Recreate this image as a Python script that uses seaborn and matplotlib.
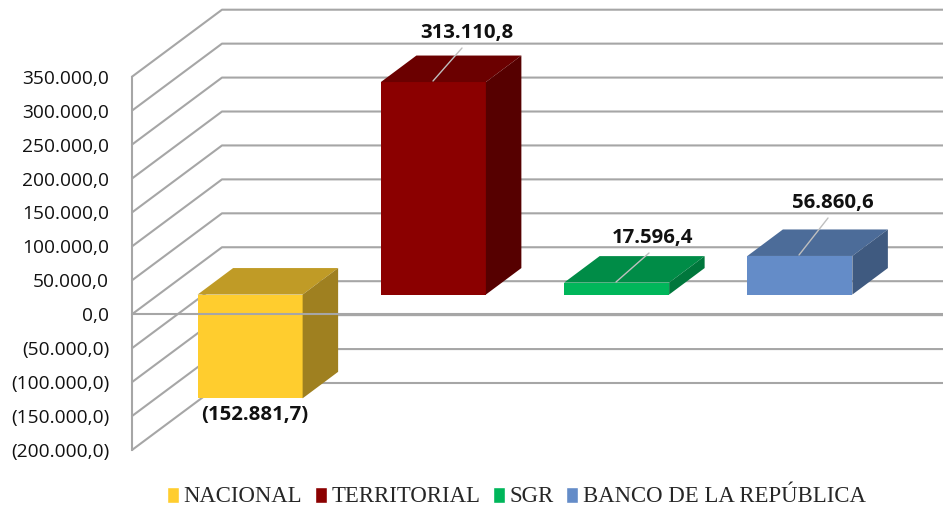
import numpy as np
import matplotlib
matplotlib.use("Agg")
import matplotlib.pyplot as plt
from matplotlib.patches import Polygon
from matplotlib.lines import Line2D
from matplotlib.transforms import Affine2D, IdentityTransform
import pandas as pd
import seaborn as sns

categorias = ["NACIONAL", "TERRITORIAL", "SGR", "BANCO DE LA REPÚBLICA"]
valores = [-152881.7, 313110.8, 17596.4, 56860.6]
etiquetas = ["(152.881,7)", "313.110,8", "17.596,4", "56.860,6"]
ticks = [350000, 300000, 250000, 200000, 150000, 100000, 50000, 0,
         -50000, -100000, -150000, -200000]
tick_labels = ["350.000,0", "300.000,0", "250.000,0", "200.000,0", "150.000,0",
               "100.000,0", "50.000,0", "0,0", "(50.000,0)", "(100.000,0)",
               "(150.000,0)", "(200.000,0)"]
colores = ["#FFCD2E", "#8B0000", "#00B65A", "#648CC8"]
colores_top = ["#C09B26", "#6B0000", "#008C47", "#4C6C99"]
colores_lado = ["#9F8020", "#560000", "#00773C", "#3F5A80"]

W, H = 943, 508
GRIS = "#A6A6A6"
FUENTE = "Open Sans"

sns.set_style("white")
fig = plt.figure(figsize=(W / 100, H / 100), dpi=100)
ax = fig.add_axes([132 / W, (H - 450) / H, 733 / W, 373.3 / H])

df = pd.DataFrame({"cat": categorias, "valor": valores})
sns.barplot(data=df, x="cat", y="valor", hue="cat", palette=colores, hue_order=categorias,
            order=categorias, dodge=False, width=0.573, legend=False, ax=ax, saturation=1, zorder=3)
ax.set_xlim(-0.5, 3.5)
ax.set_ylim(-200000, 350000)
ax.set_xlabel("")
ax.set_ylabel("")
ax.set_xticks([])
ax.set_yticks(ticks)
ax.set_yticklabels(tick_labels, fontsize=13.8, family=FUENTE, weight=500, color="#111111")
ax.tick_params(axis="y", length=0, pad=16.5)
for s in ["top", "right", "bottom"]:
    ax.spines[s].set_visible(False)
ax.spines["left"].set_color(GRIS)
ax.spines["left"].set_linewidth(1.5)
ax.patch.set_alpha(0)


def px(x, y):
    # data -> pixeles de la figura
    return ax.transData.transform((x, y))


def linea(xs, ys, lw=1.5, color=GRIS, z=1):
    fig.add_artist(Line2D(xs, ys, transform=IdentityTransform(), color=color, lw=lw, zorder=z))


# paredes: diagonal + linea horizontal del fondo
for t in ticks:
    x0, y0 = px(-0.5, t)
    linea([x0, x0 + 90, W], [y0, y0 + 67, y0 + 67], z=-1)

# barras desplazadas hacia el fondo, con sus caras 3D
dx, dy = 26.5, 19.7
fondo_x, fondo_y = 35.5, 26.5
barras = sorted(ax.patches, key=lambda p: p.get_x())
for i, b in enumerate(barras):
    b.set_transform(ax.transData + Affine2D().translate(dx, dy))
    b.set_clip_on(False)
    b.set_linewidth(0)
    x1, y1 = px(b.get_x(), 0)
    x2, y2 = px(b.get_x() + b.get_width(), valores[i])
    x1 += dx
    x2 += dx
    y1 += dy
    y2 += dy
    alto = max(y1, y2)
    bajo = min(y1, y2)
    top = [(x1, alto), (x2, alto), (x2 + fondo_x, alto + fondo_y), (x1 + fondo_x, alto + fondo_y)]
    lado = [(x2, bajo), (x2, alto), (x2 + fondo_x, alto + fondo_y), (x2 + fondo_x, bajo + fondo_y)]
    ax.add_patch(Polygon(top, closed=True, fc=colores_top[i], ec="none", transform=IdentityTransform(),
                         clip_on=False, zorder=3))
    ax.add_patch(Polygon(lado, closed=True, fc=colores_lado[i], ec="none", transform=IdentityTransform(),
                         clip_on=False, zorder=3))

# linea del cero, pasa por delante de la barra amarilla
x0, y0 = px(-0.5, 0)
ax.add_line(Line2D([x0, W], [y0, y0], transform=IdentityTransform(), color=GRIS, lw=1.5, zorder=5, clip_on=False))

# etiquetas con lineas guia
guias = [None, ((433, 81), (462, 48)), ((616, 282), (649, 253)), ((799, 255), (828, 218))]
pos_texto = [(255, 415), (467, 33), (653, 238), (833, 203)]
for i, e in enumerate(etiquetas):
    if guias[i]:
        (a, b_), (c, d) = guias[i]
        ax.add_line(Line2D([a, c], [H - b_, H - d], transform=IdentityTransform(), color="#BFBFBF",
                           lw=1, zorder=6, clip_on=False))
    fig.text(pos_texto[i][0] / W, 1 - pos_texto[i][1] / H, e, ha="center", va="center", fontsize=14.7,
             family=FUENTE, weight="bold", color="#111111")

leg = fig.legend(handles=[plt.Rectangle((0, 0), 1, 1, fc=c) for c in colores], labels=categorias,
                 ncol=4, loc="center", bbox_to_anchor=(516.5 / W, 1 - 497 / H), frameon=False,
                 prop={"family": "Liberation Serif", "size": 16.4}, handlelength=0.53, handleheight=0.7,
                 handletextpad=0.2, columnspacing=0.55, borderpad=0)

fig.savefig("out.png", dpi=100)
